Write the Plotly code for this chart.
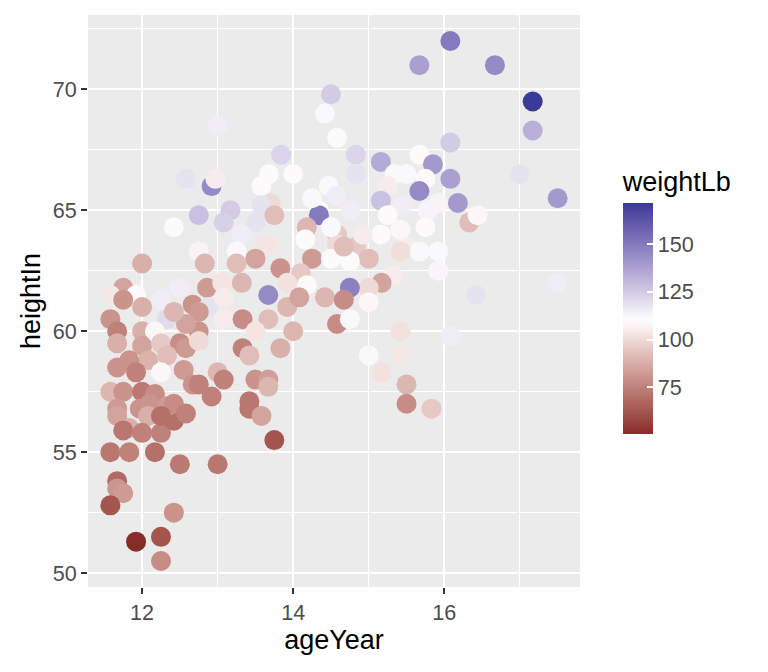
import plotly.graph_objects as go

# ---- data ----
ageYear = [
 16.08, 15.67, 16.67, 17.17, 17.17, 14.50, 14.42, 14.58, 13.00, 13.84,
 14.83, 15.16, 16.08, 15.67, 15.85, 12.58, 12.92, 12.97, 12.75, 12.42,
 12.75, 12.83, 12.00, 11.75, 11.92, 12.50, 12.86, 11.58, 13.68, 14.00,
 13.58, 14.47, 14.57, 13.70, 13.58, 13.17, 13.75, 13.50, 13.08, 14.34,
 14.34, 14.18, 14.58, 13.32, 14.16, 13.65, 13.25, 14.58, 13.50, 13.25,
 14.25, 14.50, 13.83, 14.10, 13.92, 13.32, 14.18, 13.67, 13.06, 16.08,
 14.83, 15.34, 15.50, 15.75, 15.25, 15.67, 15.16, 15.45, 15.92, 16.18,
 15.78, 15.25, 14.76, 16.33, 15.75, 15.16, 14.83, 15.50, 15.67, 15.42,
 15.92, 15.00, 14.75, 15.92, 15.33, 15.17, 15.00, 14.75, 16.42, 17.00,
 17.50, 16.44, 17.50, 11.75, 12.00, 12.25, 12.33, 12.67, 11.58, 11.67,
 12.00, 12.17, 11.67, 12.00, 12.25, 12.50, 12.58, 12.33, 12.08, 11.83,
 11.67, 11.92, 12.25, 12.55, 11.58, 11.75, 12.00, 12.17, 12.67, 12.88,
 13.08, 13.92, 14.08, 12.75, 12.75, 13.08, 13.33, 13.67, 13.50, 14.00,
 12.75, 13.33, 13.42, 13.83, 13.00, 13.08, 13.50, 13.67, 13.67, 12.75,
 12.92, 13.42, 14.42, 14.67, 15.00, 14.58, 14.75, 15.42, 16.08, 15.00,
 15.42, 15.17, 15.50, 15.50, 15.83, 11.67, 11.67, 11.97, 12.10, 11.83,
 12.08, 11.75, 12.00, 12.25, 12.42, 12.33, 11.58, 11.83, 12.17, 12.50,
 11.67, 11.67, 11.75, 11.58, 12.42, 13.42, 13.58, 13.75, 13.00, 11.92,
 12.25, 12.25, 12.42, 12.58, 12.25, 12.58, 12.42, 14.67, 14.50, 14.92,
 14.25, 15.42,
]
heightIn = [
 72.0, 71.0, 71.0, 69.5, 68.3, 69.8, 69.0, 68.0, 68.5, 67.3,
 67.3, 67.0, 67.8, 67.3, 66.9, 66.3, 66.0, 66.3, 64.8, 64.3,
 63.3, 62.8, 62.8, 61.8, 61.5, 61.8, 61.8, 61.5, 66.5, 66.5,
 66.0, 66.0, 65.6, 65.3, 65.2, 65.0, 64.8, 64.5, 64.5, 65.0,
 64.8, 64.3, 64.0, 64.0, 63.8, 63.6, 63.3, 63.6, 63.0, 62.8,
 63.0, 63.0, 62.6, 62.4, 62.0, 62.0, 61.9, 61.5, 62.0, 66.3,
 66.5, 66.5, 66.5, 66.3, 66.0, 65.8, 65.4, 65.2, 65.3, 65.3,
 65.0, 64.8, 65.0, 64.5, 64.3, 64.0, 63.5, 63.5, 63.3, 63.3,
 63.3, 63.0, 62.9, 62.5, 62.3, 62.0, 61.8, 61.8, 61.5, 66.5,
 65.5, 64.8, 62.0, 61.3, 61.0, 61.3, 60.5, 61.1, 60.5, 60.0,
 60.0, 60.0, 59.5, 59.4, 59.5, 59.5, 59.3, 59.0, 58.8, 58.8,
 58.5, 58.3, 58.3, 58.4, 57.5, 57.5, 57.5, 57.4, 57.8, 61.0,
 61.4, 61.0, 61.4, 60.0, 60.8, 60.5, 60.5, 60.5, 60.0, 60.0,
 59.6, 59.3, 59.0, 59.3, 58.3, 58.0, 58.0, 58.0, 57.7, 57.8,
 57.3, 57.1, 61.4, 61.3, 61.2, 60.3, 60.5, 60.0, 59.8, 59.0,
 59.0, 58.3, 57.8, 57.0, 56.8, 56.8, 56.5, 56.8, 57.0, 56.0,
 56.5, 55.9, 55.8, 55.8, 56.3, 56.9, 55.0, 55.0, 55.0, 54.5,
 53.8, 53.5, 53.3, 52.8, 52.5, 56.8, 56.5, 55.5, 54.5, 51.3,
 51.5, 50.5, 57.0, 56.6, 56.5, 60.3, 60.8, 63.5, 64.3, 64.0,
 65.5, 64.2,
]
weightLb = [
 150, 138, 145, 171.5, 133, 125, 112, 110, 115, 122,
 122, 135, 125, 110, 140, 118, 145, 105, 128, 110,
 107, 90, 88, 85, 110, 115, 82, 104, 110, 110,
 110, 112, 115, 100, 118, 125, 92, 118, 123.5, 110,
 150, 90, 95, 115, 110, 103, 112, 100, 85, 92,
 82, 110, 80, 95, 102, 90, 110, 145, 103, 138,
 118, 112, 112, 110, 105, 145, 128, 115, 107, 140,
 113, 110, 115, 92, 110, 110, 95, 105, 112, 101,
 112, 92, 110, 112.5, 105, 85, 100, 148, 118, 118,
 140, 108, 115, 80, 88, 115, 120, 80, 80, 75,
 88, 108, 88, 85, 95, 78.5, 82, 92, 89, 80,
 80, 75, 108, 82, 90, 80, 72.5, 78, 80, 118,
 105, 90, 85, 80, 82, 105, 78, 92, 103, 90,
 100, 75, 92, 88, 90, 75, 80, 83.5, 90, 75,
 75, 72, 90, 78, 108, 78, 112, 102, 115, 112,
 104, 102, 90, 78, 95, 82, 85, 80, 80, 88,
 88, 72, 75, 75, 70, 82, 72, 75, 70, 73,
 68.5, 81, 82, 62, 80, 72, 85, 62, 72, 50.5,
 62, 78, 78, 75, 70, 85, 90, 92, 112, 105,
 112, 108,
]

xTicks = [12, 14, 16]
yTicks = [50, 55, 60, 65, 70]
cbTicks = [75, 100, 125, 150]

# ---- diverging colour scale (Lab interpolation, like scale_colour_gradient2) ----
low_hex, mid_hex, high_hex = "#832424", "#FFFFFF", "#3A3A98"
midpoint = 110.0
wmin, wmax = min(weightLb), max(weightLb)


def hex2rgb(h):
    h = h.lstrip("#")
    return [int(h[i:i + 2], 16) / 255 for i in (0, 2, 4)]


def to_lin(c):
    return c / 12.92 if c <= 0.04045 else ((c + 0.055) / 1.055) ** 2.4


def from_lin(c):
    v = 12.92 * c if c <= 0.0031308 else 1.055 * c ** (1 / 2.4) - 0.055
    return min(max(v, 0), 1)


WX, WY, WZ = 0.95047, 1.0, 1.08883


def rgb2lab(rgb):
    r, g, b = [to_lin(c) for c in rgb]
    X = 0.4124 * r + 0.3576 * g + 0.1805 * b
    Y = 0.2126 * r + 0.7152 * g + 0.0722 * b
    Z = 0.0193 * r + 0.1192 * g + 0.9505 * b

    def f(t):
        return t ** (1 / 3) if t > 216 / 24389 else (24389 / 27 * t + 16) / 116

    fx, fy, fz = f(X / WX), f(Y / WY), f(Z / WZ)
    return [116 * fy - 16, 500 * (fx - fy), 200 * (fy - fz)]


def lab2rgb(lab):
    L, a, b = lab
    fy = (L + 16) / 116
    fx = fy + a / 500
    fz = fy - b / 200

    def finv(t):
        return t ** 3 if t ** 3 > 216 / 24389 else (116 * t - 16) / (24389 / 27)

    X, Y, Z = finv(fx) * WX, finv(fy) * WY, finv(fz) * WZ
    r = 3.2406 * X - 1.5372 * Y - 0.4986 * Z
    g = -0.9689 * X + 1.8758 * Y + 0.0415 * Z
    bb = 0.0557 * X - 0.2040 * Y + 1.0570 * Z
    return [from_lin(c) for c in (r, g, bb)]


LOW, MID, HIGH = rgb2lab(hex2rgb(low_hex)), rgb2lab(hex2rgb(mid_hex)), rgb2lab(hex2rgb(high_hex))
half = max(abs(wmin - midpoint), abs(wmax - midpoint))

colorscale = []
N = 40
for i in range(N + 1):
    p = i / N
    v = wmin + p * (wmax - wmin)
    t = (v - midpoint) / (2 * half) + 0.5
    if t < 0.5:
        u = t / 0.5
        lab = [LOW[k] + (MID[k] - LOW[k]) * u for k in range(3)]
    else:
        u = (t - 0.5) / 0.5
        lab = [MID[k] + (HIGH[k] - MID[k]) * u for k in range(3)]
    r, g, b = lab2rgb(lab)
    colorscale.append([p, "rgb(%d,%d,%d)" % (round(r * 255), round(g * 255), round(b * 255))])

FONT = "Liberation Sans, Arial, sans-serif"
TITLE_SIZE = 27
TICK_SIZE = 21.6

# page body has an 8px margin, so the figure is laid out 8px up/left
ML, MT, MR, MB = 80, 7, 196, 93
panel_h = 672 - MT - MB
bar_len = 223
bar_bottom_fig = 426  # bar bottom, figure px from top
title_room = 43

fig = go.Figure(
    go.Scatter(
        x=ageYear, y=heightIn, mode="markers",
        marker=dict(
            size=20, color=weightLb, colorscale=colorscale,
            cmin=wmin, cmax=wmax, line=dict(width=0), opacity=1,
            colorbar=dict(
                title=dict(text="weightLb", side="top",
                           font=dict(size=TITLE_SIZE, color="black", family=FONT)),
                thickness=30, lenmode="pixels", len=bar_len + title_room,
                x=1.087, xanchor="left",
                y=(672 - MB - bar_bottom_fig) / panel_h, yanchor="bottom",
                xpad=0, ypad=0, outlinewidth=0,
                tickvals=cbTicks, ticks="inside", ticklen=6,
                tickcolor="white", tickwidth=1.5,
                tickfont=dict(size=TICK_SIZE, color="#4D4D4D", family=FONT),
            ),
        ),
        hoverinfo="skip",
    )
)

axis_common = dict(
    showline=False, zeroline=False, ticks="outside", ticklen=6,
    tickwidth=1.6, tickcolor="#333333", gridcolor="white", gridwidth=2.2,
    tickfont=dict(size=TICK_SIZE, color="#4D4D4D", family=FONT),
    automargin=False,
)

fig.update_xaxes(
    range=[11.284, 17.796], tickvals=xTicks,
    minor=dict(tickvals=[13, 15, 17], showgrid=True,
               gridcolor="white", gridwidth=1.1, ticks=""),
    title=dict(text="ageYear", font=dict(size=TITLE_SIZE, color="black", family=FONT), standoff=6),
    **axis_common,
)
fig.update_yaxes(
    range=[49.425, 73.075], tickvals=yTicks,
    minor=dict(tickvals=[52.5, 57.5, 62.5, 67.5, 72.5], showgrid=True,
               gridcolor="white", gridwidth=1.1, ticks=""),
    title=dict(text="heightIn", font=dict(size=TITLE_SIZE, color="black", family=FONT), standoff=4),
    **axis_common,
)

fig.update_layout(
    width=768, height=672,
    margin=dict(l=ML, r=MR, t=MT, b=MB),
    plot_bgcolor="#EBEBEB", paper_bgcolor="white",
    showlegend=False,
    font=dict(family=FONT),
)

fig.write_html("out.html")
